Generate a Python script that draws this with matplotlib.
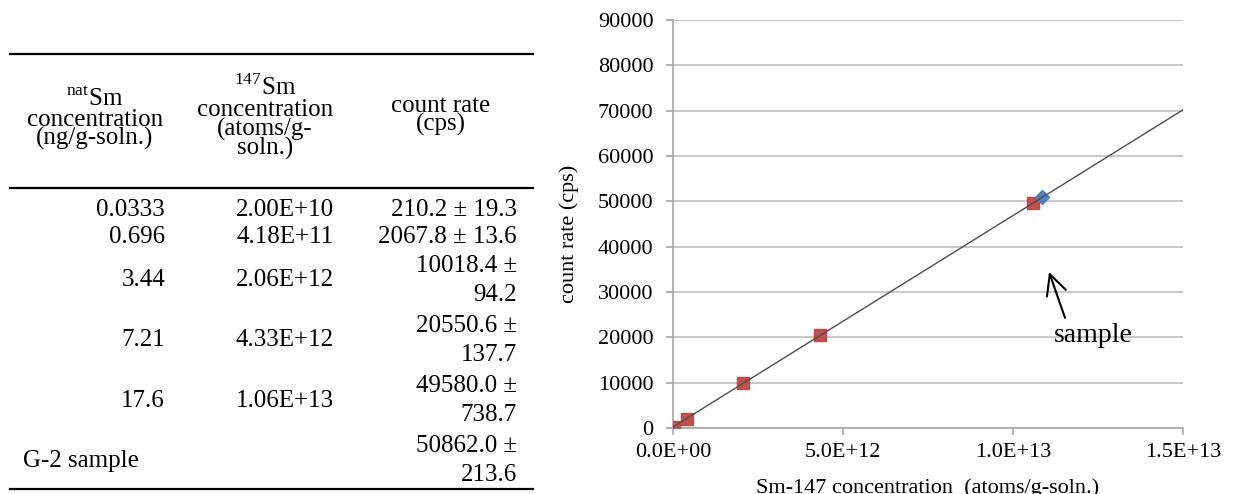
import numpy as np
import matplotlib
matplotlib.use("Agg")
import matplotlib.pyplot as plt
from matplotlib.lines import Line2D
from matplotlib.ticker import FuncFormatter

plt.rcParams['font.family'] = ['Liberation Serif', 'DejaVu Serif']
plt.rcParams['mathtext.fontset'] = 'custom'
plt.rcParams['mathtext.rm'] = 'Liberation Serif'

# Sm standards
nat_conc = ["0.0333", "0.696", "3.44", "7.21", "17.6"]
sm147_conc = [2.00e10, 4.18e11, 2.06e12, 4.33e12, 1.06e13]
std_rate = [210.2, 2067.8, 10018.4, 20550.6, 49580.0]
std_err = [19.3, 13.6, 94.2, 137.7, 738.7]

# G-2 sample
sample_name = "G-2 sample"
sample_rate = 50862.0
sample_err = 213.6

W, H = 1235, 494
fig = plt.figure(figsize=(W / 100, H / 100), dpi=100)


def fx(px):
    return px / W


def fy(py):
    return 1 - py / H


def ftext(px, py, s, **kw):
    fig.text(fx(px), fy(py), s, fontsize=18, va='baseline', **kw)


#region: table
for py in (54, 188, 489):
    fig.add_artist(Line2D([fx(10), fx(533)], [fy(py), fy(py)], color='black', lw=1.6))

# header lines (baselines)
ftext(95, 106, r"$^{\mathrm{nat}}$Sm", ha='center')
ftext(95, 126, "concentration", ha='center')
ftext(95, 145, "(ng/g-soln.)", ha='center')
ftext(265, 95, r"$^{\mathrm{147}}$Sm", ha='center')
ftext(265, 116, "concentration", ha='center')
ftext(265, 136, "(atoms/g-", ha='center')
ftext(265, 155, "soln.)", ha='center')
ftext(441, 112, "count rate", ha='center')
ftext(441, 131, "(cps)", ha='center')


def rate_lines(r, e):
    s = f"{r:.1f} ± {e:.1f}"
    if len(s) > 13:
        return [f"{r:.1f} ±", f"{e:.1f}"]
    return [s]


row_top = 194.5
for i in range(len(std_rate) + 1):
    if i < len(std_rate):
        lines = rate_lines(std_rate[i], std_err[i])
    else:
        lines = rate_lines(sample_rate, sample_err)
    h = 27 if len(lines) == 1 else 60
    cy = row_top + h / 2
    base = cy + 8
    if i < len(std_rate):
        ftext(165, base, nat_conc[i], ha='right')
        ftext(334, base, f"{sm147_conc[i]:.2E}", ha='right')
    else:
        ftext(23, base, sample_name, ha='left')
    if len(lines) == 1:
        ftext(517, base, lines[0], ha='right')
    else:
        ftext(517, base - 14.5, lines[0], ha='right')
        ftext(517, base + 14.5, lines[1], ha='right')
    row_top += h
#endregion

#region: calibration plot
ax = fig.add_axes([673 / W, 1 - 428 / H, 510 / W, 408 / H])

m, b = np.polyfit(sm147_conc, std_rate, 1)
sample_conc = (sample_rate - b) / m

x_fit = np.array([0, 1.5e13])
ax.plot(x_fit, m * x_fit + b, color='#4d4d4d', lw=1.0, zorder=4)
ax.plot(sm147_conc, std_rate, ls='none', marker='s', markersize=8.6,
        color='#c0504d', markeredgecolor='#be4b48', zorder=3)
ax.plot([sample_conc], [sample_rate], ls='none', marker='D', markersize=7.5,
        color='#4f81bd', markeredgecolor='#4a7ebb', zorder=3)

ax.set_xlim(0, 1.5e13)
ax.set_ylim(0, 90000)
ax.set_xticks([0, 5e12, 1e13, 1.5e13])
ax.set_yticks(np.arange(0, 90001, 10000))
ax.xaxis.set_major_formatter(FuncFormatter(lambda v, p: f"{v:.1E}"))
ax.yaxis.set_major_formatter(FuncFormatter(lambda v, p: f"{v:.0f}"))
ax.grid(axis='y', color='#bfbfbf', lw=1.2)
ax.set_axisbelow(True)
for side in ('top', 'right'):
    ax.spines[side].set_visible(False)
for side in ('left', 'bottom'):
    ax.spines[side].set_color('#a6a6a6')
    ax.spines[side].set_linewidth(1.2)
ax.tick_params(axis='both', labelsize=16, length=5, color='#a6a6a6', width=1.2)
ax.tick_params(axis='y', pad=9)
ax.tick_params(axis='x', pad=6)

ax.set_ylabel("count rate (cps)", fontsize=16, va='center')
ax.yaxis.set_label_coords(-0.204, 0.475)
ax.set_xlabel("Sm-147 concentration  (atoms/g-soln.)", fontsize=16, va='top')
ax.xaxis.set_label_coords(0.5, -0.124)

ax.annotate("", xy=(1.106e13, 34400), xytext=(1.153e13, 24300),
            arrowprops=dict(arrowstyle='->, head_length=0.8, head_width=0.4',
                            mutation_scale=18, lw=1.5, color='black',
                            shrinkA=0, shrinkB=0))
ax.text(1.121e13, 20300, "sample", fontsize=20, va='center', ha='left')
#endregion

fig.savefig("out.png", dpi=100)
